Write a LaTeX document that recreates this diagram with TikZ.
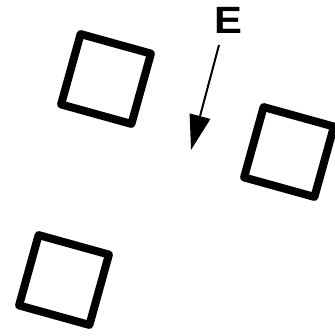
\documentclass[tikz,border=0pt]{standalone}
\usepackage{fontspec}
\setmainfont{Liberation Sans}
\usetikzlibrary{arrows.meta}
\tikzset{
  cell/.style={draw=black,line width=8pt,line join=round,fill=white,inner sep=0pt,minimum size=73pt,rotate=-15.5},
  field/.style={-{Triangle[length=35pt,width=21pt]},line width=2pt,draw=black},
  tag/.style={font=\fontsize{38}{38}\selectfont\bfseries,inner sep=0pt,xscale=1.1},
}

\begin{document}
\begin{tikzpicture}[x=1pt,y=-1pt]
  \useasboundingbox (0,0) rectangle (334,336);
  \node[cell] (cellA) at (106,79) {};
  \node[cell] (cellB) at (289,152) {};
  \node[cell] (cellC) at (64,280) {};

  \node[tag] (efield) at (228,20) {E};
  \coordinate (tail) at (219,45);
  \coordinate (tip) at (191,150);
  \draw[field] (tail) -- (tip);
\end{tikzpicture}
\end{document}
